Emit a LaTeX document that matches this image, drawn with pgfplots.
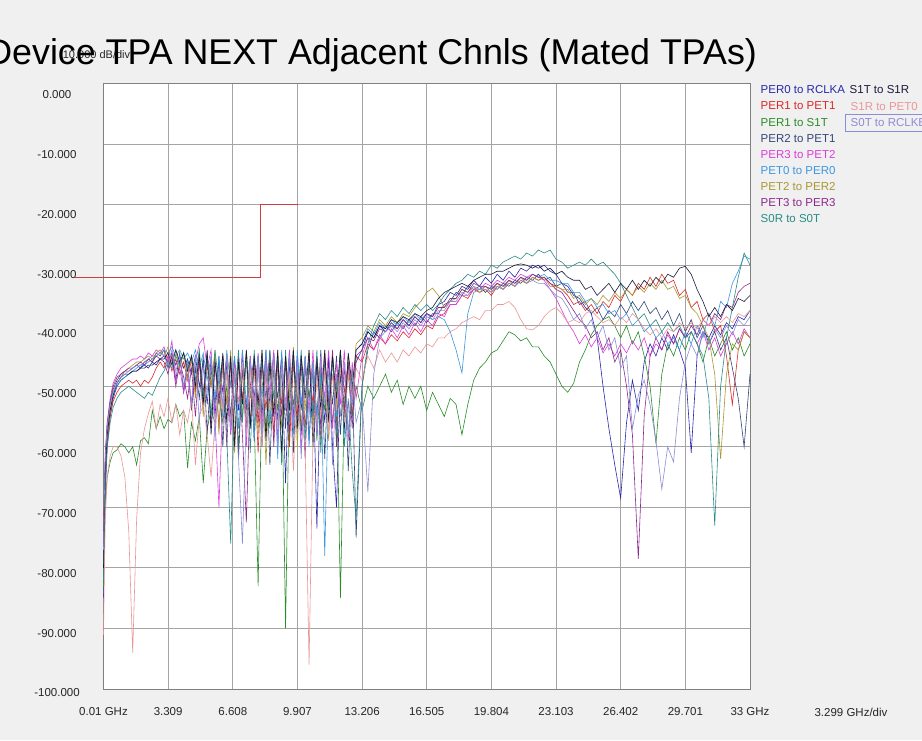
\documentclass[border=0pt]{standalone}
\usepackage{pgfplots}
\pgfplotsset{compat=1.18}
\usepackage{fontspec}
\setmainfont{Liberation Sans}
\definecolor{bgc}{RGB}{240,240,240}
\definecolor{cA}{RGB}{40,40,170}
\definecolor{cB}{RGB}{220,40,40}
\definecolor{cC}{RGB}{40,140,40}
\definecolor{cD}{RGB}{50,70,120}
\definecolor{cE}{RGB}{220,60,220}
\definecolor{cF}{RGB}{60,150,225}
\definecolor{cG}{RGB}{170,150,50}
\definecolor{cH}{RGB}{140,40,140}
\definecolor{cI}{RGB}{40,140,135}
\definecolor{cJ}{RGB}{25,25,60}
\definecolor{cK}{RGB}{235,150,150}
\definecolor{cL}{RGB}{140,140,215}
\definecolor{limc}{RGB}{210,60,60}
\definecolor{gridc}{RGB}{165,165,165}
\begin{document}
\begin{tikzpicture}[x=1pt,y=1pt]
\fill[bgc] (0,0) rectangle (922,740);
\clip (0,0) rectangle (922,740);
\begin{axis}[
  at={(103.5pt,51pt)}, anchor=south west,
  width=646.5pt, height=605.5pt, scale only axis,
  xmin=0.01, xmax=33, ymin=-100, ymax=0,
  axis background/.style={fill=white},
  axis line style={draw=gray, line width=0.9pt},
  grid=major, major grid style={draw=gridc, line width=0.9pt},
  tick style={draw=none},
  clip=false,
  xtick={0.01,3.309,6.608,9.907,13.206,16.505,19.804,23.103,26.402,29.701,33},
  xticklabels={0.01 GHz,3.309,6.608,9.907,13.206,16.505,19.804,23.103,26.402,29.701,33 GHz},
  ytick={-100,-90,-80,-70,-60,-50,-40,-30,-20,-10,0},
  yticklabels={-100.000,-90.000,-80.000,-70.000,-60.000,-50.000,-40.000,-30.000,-20.000,-10.000,0.000},
  ticklabel style={font=\fontsize{11.5}{13}\selectfont, text=black!85},
  xticklabel style={anchor=center, yshift=-23pt},
  yticklabel style={anchor=center, xshift=-46.5pt, yshift={-4pt-0.7pt*\ticknum}},
  every axis plot/.append style={line width=0.6pt},
]
% limit line
\addplot[limc, line width=0.9pt] coordinates {(-1.44,-32) (8.0,-32) (8.0,-20) (9.92,-20)};
% PER0 to RCLKA
\addplot[cA] coordinates {
(0.01,-85)(0.05,-76)(0.1,-68)(0.2,-60)(0.35,-55)(0.5,-52)(0.7,-50)(0.9,-49)(1.1,-48.5)(1.3,-48)(1.5,-47.5)(1.7,-47.5)(1.9,-47)(2.1,-46.5)(2.3,-47)(2.5,-46)(2.7,-46.5)(2.9,-45.5)
(3.1,-45)(3.3,-46)(3.5,-44.5)(3.7,-46.5)(3.9,-45)(4.1,-47)(4.3,-45.5)(4.5,-48)(4.7,-45)(4.9,-50)(5.1,-46)(5.3,-53)(5.5,-45.5)(5.7,-55)(5.9,-46)(6.1,-51)(6.3,-45)(6.5,-58)(6.7,-46)(6.9,-54)(7.1,-45)(7.3,-57)(7.5,-46)(7.7,-52)(7.9,-45)(8.1,-60)(8.3,-46)(8.5,-53)(8.7,-44.5)(8.9,-56)(9.1,-45)(9.3,-66)(9.5,-46)(9.7,-55)(9.9,-45)(10.1,-58)(10.3,-46)(10.5,-52)(10.7,-47)(10.9,-73.5)(11.1,-47)(11.3,-56)(11.5,-45)(11.7,-60)(11.9,-70)(12.1,-48)(12.3,-55)(12.5,-45)(12.7,-52)(12.9,-46)
(13.2,-44)(13.5,-41)(13.8,-42)(14.1,-40)(14.4,-41)(14.7,-39.5)(15.0,-40.5)(15.3,-39)(15.6,-40)(15.9,-38.5)(16.2,-39.5)(16.5,-38)(16.8,-38.5)(17.1,-36.5)(17.4,-36)(17.7,-34.5)(18.0,-35)(18.3,-33.5)(18.6,-34)(18.9,-32.5)(19.2,-33.5)(19.5,-32)(19.8,-33)(20.1,-31.5)(20.4,-32.5)(20.7,-31)(21.0,-32)(21.3,-30.5)(21.6,-31)(21.9,-30)(22.2,-30.5)(22.5,-30)(22.8,-31)(23.1,-31.5)(23.4,-33)(23.7,-33.5)(24.0,-35)(24.3,-35.5)(24.6,-37)(24.9,-38)(25.2,-42)(25.5,-50)(25.8,-57)(26.1,-63)(26.4,-68.5)(26.7,-56)(27.0,-49)(27.3,-54)(27.6,-46)(27.9,-43)(28.2,-45)(28.5,-42)(28.8,-44)(29.1,-41.5)(29.4,-44)(29.7,-47)(30.0,-61)(30.3,-45)(30.6,-41)(30.9,-42)(31.2,-40)(31.5,-41.5)(31.8,-39.5)(32.1,-40.5)(32.4,-38.5)(32.7,-39)(33.0,-37.5)};
% PER1 to PET1
\addplot[cB] coordinates {
(0.01,-80)(0.05,-72)(0.1,-65)(0.2,-59)(0.35,-55)(0.5,-52.5)(0.7,-51)(0.9,-50)(1.1,-49.5)(1.3,-49)(1.5,-49.5)(1.7,-49)(1.9,-50)(2.1,-49)(2.3,-49.5)(2.5,-48.5)(2.7,-47)(2.9,-46)
(3.1,-47)(3.3,-45)(3.5,-47.5)(3.7,-45.5)(3.9,-48)(4.1,-46)(4.3,-49)(4.5,-45.5)(4.7,-51)(4.9,-46)(5.1,-54)(5.3,-46.5)(5.5,-50)(5.7,-45)(5.9,-57)(6.1,-46)(6.3,-53)(6.5,-45.5)(6.7,-59)(6.9,-46)(7.1,-52)(7.3,-45)(7.5,-56)(7.7,-46)(7.9,-61)(8.1,-45.5)(8.3,-54)(8.5,-45)(8.7,-58)(8.9,-46)(9.1,-53)(9.3,-45)(9.5,-60)(9.7,-46)(9.9,-55)(10.1,-45)(10.3,-57)(10.5,-46.5)(10.7,-53)(10.9,-45)(11.1,-59)(11.3,-46)(11.5,-54)(11.7,-45.5)(11.9,-56)(12.1,-45)(12.3,-51)(12.5,-46)(12.7,-55)(12.9,-45)
(13.2,-46)(13.5,-43)(13.8,-44)(14.1,-42)(14.4,-43)(14.7,-41.5)(15.0,-42.5)(15.3,-41)(15.6,-42)(15.9,-40.5)(16.2,-41.5)(16.5,-40)(16.8,-40.5)(17.1,-38.5)(17.4,-38)(17.7,-36.5)(18.0,-36.5)(18.3,-35)(18.6,-35.5)(18.9,-34)(19.2,-34.5)(19.5,-34)(19.8,-35)(20.1,-33.5)(20.4,-34)(20.7,-33)(21.0,-33.5)(21.3,-32.5)(21.6,-33)(21.9,-32)(22.2,-32.5)(22.5,-32)(22.8,-33)(23.1,-33.5)(23.4,-34)(23.7,-35)(24.0,-36.5)(24.3,-36)(24.6,-37.5)(24.9,-36.5)(25.2,-38)(25.5,-36)(25.8,-37)(26.1,-35)(26.4,-36)(26.7,-34)(27.0,-35)(27.3,-33)(27.6,-34)(27.9,-32)(28.2,-33.5)(28.5,-31.5)(28.8,-33)(29.1,-32.5)(29.4,-35)(29.7,-34)(30.0,-37)(30.3,-36)(30.6,-39)(30.9,-38)(31.2,-41)(31.5,-40)(31.8,-45)(32.1,-53)(32.4,-44)(32.7,-41)(33.0,-42)};
% PER1 to S1T
\addplot[cC] coordinates {
(0.01,-83)(0.05,-76)(0.1,-69)(0.2,-65)(0.35,-62.5)(0.5,-61)(0.7,-60.5)(0.9,-59.5)(1.1,-60)(1.3,-61)(1.5,-60)(1.7,-63)(1.9,-59)(2.1,-58.5)(2.3,-59.5)(2.5,-54)(2.7,-57)(2.9,-55)
(3.1,-57)(3.3,-55.5)(3.5,-56)(3.7,-53)(3.9,-55)(4.1,-54)(4.3,-63.5)(4.5,-56)(4.7,-59)(4.9,-55)(5.1,-66)(5.3,-57)(5.5,-54)(5.7,-56)(5.9,-52)(6.1,-56)(6.3,-50)(6.5,-55)(6.7,-48)(6.9,-60)(7.1,-47)(7.3,-58)(7.5,-46)(7.7,-55)(7.9,-83)(8.1,-50)(8.3,-47)(8.5,-57)(8.7,-46)(8.9,-54)(9.1,-47)(9.3,-90)(9.5,-48)(9.7,-53)(9.9,-46)(10.1,-57)(10.3,-47)(10.5,-52)(10.7,-46)(10.9,-59)(11.1,-48)(11.3,-54)(11.5,-47)(11.7,-56)(11.9,-49)(12.1,-85)(12.3,-52)(12.5,-48)(12.7,-55)(12.9,-50)
(13.2,-54)(13.5,-50)(13.8,-52)(14.1,-50)(14.4,-48)(14.7,-51)(15.0,-49)(15.3,-53)(15.6,-50)(15.9,-52)(16.2,-50)(16.5,-54)(16.8,-51)(17.1,-53)(17.4,-55)(17.7,-52)(18.0,-53)(18.3,-58)(18.6,-53)(18.9,-49)(19.2,-47)(19.5,-46)(19.8,-44.5)(20.1,-44)(20.4,-42.5)(20.7,-41)(21.0,-41.5)(21.3,-42.5)(21.6,-42)(21.9,-43.5)(22.2,-43.5)(22.5,-45)(22.8,-46)(23.1,-48)(23.4,-50)(23.7,-51)(24.0,-49.5)(24.3,-46)(24.6,-44)(24.9,-41.5)(25.2,-40)(25.5,-39)(25.8,-38.5)(26.1,-40)(26.4,-42)(26.7,-40)(27.0,-43)(27.3,-41)(27.6,-45)(27.9,-50)(28.2,-59.5)(28.5,-48)(28.8,-43)(29.1,-45)(29.4,-42)(29.7,-44)(30.0,-41)(30.3,-43)(30.6,-46)(30.9,-42)(31.2,-45)(31.5,-43)(31.8,-41)(32.1,-44)(32.4,-42)(32.7,-45)(33.0,-43)};
% PER2 to PET1
\addplot[cD] coordinates {
(0.01,-78)(0.05,-70)(0.1,-63)(0.2,-57)(0.35,-53)(0.5,-50.5)(0.7,-49)(0.9,-48)(1.1,-47.5)(1.3,-47.5)(1.5,-47)(1.7,-46.5)(1.9,-47)(2.1,-46)(2.3,-45.5)(2.5,-46)(2.7,-44.5)(2.9,-45)
(3.1,-44)(3.3,-47)(3.5,-45)(3.7,-49)(3.9,-44.5)(4.1,-51)(4.3,-46)(4.5,-54)(4.7,-47)(4.9,-52)(5.1,-45)(5.3,-58)(5.5,-47)(5.7,-53)(5.9,-45)(6.1,-60)(6.3,-46)(6.5,-55)(6.7,-45)(6.9,-62)(7.1,-47)(7.3,-54)(7.5,-45)(7.7,-59)(7.9,-46)(8.1,-55)(8.3,-44)(8.5,-63)(8.7,-46)(8.9,-52)(9.1,-45)(9.3,-57)(9.5,-44)(9.7,-61)(9.9,-46)(10.1,-54)(10.3,-45)(10.5,-59)(10.7,-46)(10.9,-55)(11.1,-44)(11.3,-62)(11.5,-46)(11.7,-53)(11.9,-45)(12.1,-58)(12.3,-46)(12.5,-64)(12.7,-47)(12.9,-75)
(13.2,-50)(13.5,-44)(13.8,-41)(14.1,-42)(14.4,-40)(14.7,-41)(15.0,-39.5)(15.3,-40.5)(15.6,-39)(15.9,-40)(16.2,-38.5)(16.5,-39.5)(16.8,-38)(17.1,-38)(17.4,-36.5)(17.7,-36)(18.0,-34.5)(18.3,-35)(18.6,-33.5)(18.9,-34)(19.2,-33.5)(19.5,-34.5)(19.8,-33.5)(20.1,-34)(20.4,-33)(20.7,-33.5)(21.0,-32.5)(21.3,-33)(21.6,-32)(21.9,-32.5)(22.2,-31.5)(22.5,-32.5)(22.8,-32)(23.1,-33.5)(23.4,-33)(23.7,-34.5)(24.0,-34.5)(24.3,-36.5)(24.6,-36)(24.9,-38)(25.2,-37)(25.5,-39)(25.8,-37.5)(26.1,-38.5)(26.4,-36.5)(26.7,-38)(27.0,-36)(27.3,-37.5)(27.6,-36)(27.9,-38)(28.2,-37)(28.5,-39)(28.8,-37.5)(29.1,-40)(29.4,-38)(29.7,-41)(30.0,-39)(30.3,-42)(30.6,-40)(30.9,-43)(31.2,-41)(31.5,-44)(31.8,-42)(32.1,-47)(32.4,-52)(32.7,-60)(33.0,-48)};
% PER3 to PET2
\addplot[cE] coordinates {
(0.01,-78)(0.05,-69)(0.1,-62)(0.2,-56)(0.35,-52)(0.5,-49.5)(0.7,-48)(0.9,-47)(1.1,-46.5)(1.3,-46)(1.5,-45.5)(1.7,-45.5)(1.9,-45)(2.1,-45.5)(2.3,-44.5)(2.5,-45)(2.7,-44)(2.9,-44.5)
(3.1,-43.5)(3.3,-46)(3.5,-42.5)(3.7,-49)(3.9,-47)(4.1,-51)(4.3,-48)(4.5,-53)(4.7,-46)(4.9,-43)(5.1,-42)(5.3,-47)(5.5,-44)(5.7,-55)(5.9,-70)(6.1,-52)(6.3,-45)(6.5,-58)(6.7,-46)(6.9,-53)(7.1,-44)(7.3,-60)(7.5,-45)(7.7,-54)(7.9,-44.5)(8.1,-57)(8.3,-45)(8.5,-51)(8.7,-44)(8.9,-59)(9.1,-46)(9.3,-53)(9.5,-44)(9.7,-56)(9.9,-45)(10.1,-61)(10.3,-46)(10.5,-54)(10.7,-44)(10.9,-58)(11.1,-45)(11.3,-52)(11.5,-44)(11.7,-57)(11.9,-46)(12.1,-53)(12.3,-44)(12.5,-59)(12.7,-46)(12.9,-52)
(13.2,-45)(13.5,-42)(13.8,-44)(14.1,-41.5)(14.4,-43)(14.7,-40.5)(15.0,-42)(15.3,-40)(15.6,-41.5)(15.9,-39.5)(16.2,-41)(16.5,-39)(16.8,-40)(17.1,-38)(17.4,-38.5)(17.7,-36.5)(18.0,-36.5)(18.3,-35)(18.6,-35)(18.9,-34)(19.2,-34)(19.5,-33)(19.8,-33.5)(20.1,-32.5)(20.4,-33)(20.7,-32)(21.0,-32.5)(21.3,-31.5)(21.6,-32)(21.9,-31.5)(22.2,-32)(22.5,-32.5)(22.8,-34)(23.1,-35.5)(23.4,-37.5)(23.7,-39.5)(24.0,-41)(24.3,-43)(24.6,-41.5)(24.9,-43.5)(25.2,-42)(25.5,-44.5)(25.8,-43)(26.1,-45)(26.4,-43)(26.7,-44.5)(27.0,-42.5)(27.3,-44)(27.6,-42)(27.9,-45)(28.2,-43)(28.5,-44)(28.8,-41.5)(29.1,-43)(29.4,-40.5)(29.7,-42)(30.0,-41)(30.3,-43)(30.6,-41)(30.9,-44)(31.2,-42)(31.5,-45)(31.8,-43)(32.1,-41)(32.4,-43)(32.7,-40.5)(33.0,-42)};
% PET0 to PER0
\addplot[cF] coordinates {
(0.01,-80)(0.05,-72)(0.1,-64)(0.2,-58)(0.35,-54)(0.5,-51.5)(0.7,-50)(0.9,-49)(1.1,-48.5)(1.3,-48)(1.5,-47.5)(1.7,-47)(1.9,-46.5)(2.1,-46.5)(2.3,-46)(2.5,-45.5)(2.7,-45)(2.9,-44.5)
(3.1,-44)(3.3,-44.5)(3.5,-43.5)(3.7,-45)(3.9,-44)(4.1,-45.5)(4.3,-44.5)(4.5,-46)(4.7,-44)(4.9,-47)(5.1,-44.5)(5.3,-49)(5.5,-45)(5.7,-52)(5.9,-45)(6.1,-55)(6.3,-44)(6.5,-50)(6.7,-45)(6.9,-57)(7.1,-44)(7.3,-53)(7.5,-45.5)(7.7,-59)(7.9,-45)(8.1,-52)(8.3,-44)(8.5,-56)(8.7,-45)(8.9,-62)(9.1,-44)(9.3,-54)(9.5,-45)(9.7,-58)(9.9,-44)(10.1,-53)(10.3,-45)(10.5,-60)(10.7,-46)(10.9,-55)(11.1,-48)(11.3,-78)(11.5,-50)(11.7,-46)(11.9,-55)(12.1,-44)(12.3,-58)(12.5,-45)(12.7,-53)(12.9,-44)
(13.2,-43)(13.5,-40.5)(13.8,-41.5)(14.1,-39.5)(14.4,-40.5)(14.7,-39)(15.0,-40)(15.3,-38.5)(15.6,-39.5)(15.9,-38)(16.2,-39)(16.5,-38)(16.8,-39)(17.1,-38.5)(17.4,-39)(17.7,-41)(18.0,-44)(18.3,-47.8)(18.6,-38)(18.9,-34.5)(19.2,-34)(19.5,-33.5)(19.8,-34)(20.1,-33)(20.4,-33.5)(20.7,-32.5)(21.0,-33)(21.3,-32)(21.6,-32.5)(21.9,-31.5)(22.2,-32)(22.5,-31.5)(22.8,-32.5)(23.1,-32.5)(23.4,-33)(23.7,-33)(24.0,-34.5)(24.3,-34.5)(24.6,-36)(24.9,-35.5)(25.2,-37)(25.5,-36.5)(25.8,-38)(26.1,-37.5)(26.4,-39)(26.7,-38)(27.0,-40)(27.3,-39)(27.6,-41)(27.9,-40)(28.2,-42)(28.5,-41)(28.8,-43)(29.1,-42)(29.4,-44)(29.7,-41)(30.0,-43)(30.3,-40)(30.6,-42)(30.9,-38)(31.2,-40)(31.5,-36)(31.8,-37)(32.1,-33)(32.4,-31)(32.7,-28.5)(33.0,-29)};
% PET2 to PER2
\addplot[cG] coordinates {
(0.01,-79)(0.05,-71)(0.1,-64)(0.2,-58)(0.35,-54)(0.5,-51)(0.7,-49.5)(0.9,-48.5)(1.1,-47.5)(1.3,-47)(1.5,-46.5)(1.7,-46)(1.9,-46)(2.1,-45.5)(2.3,-45)(2.5,-45.5)(2.7,-44.5)(2.9,-44)
(3.1,-45)(3.3,-43.5)(3.5,-46)(3.7,-44)(3.9,-47)(4.1,-44.5)(4.3,-49)(4.5,-45)(4.7,-52)(4.9,-44)(5.1,-55)(5.3,-45)(5.5,-50)(5.7,-44)(5.9,-58)(6.1,-45)(6.3,-53)(6.5,-44)(6.7,-61)(6.9,-45)(7.1,-55)(7.3,-44)(7.5,-52)(7.7,-45)(7.9,-58)(8.1,-44)(8.3,-63)(8.5,-45)(8.7,-54)(8.9,-44)(9.1,-57)(9.3,-45)(9.5,-52)(9.7,-43.5)(9.9,-60)(10.1,-45)(10.3,-54)(10.5,-44)(10.7,-57)(10.9,-45)(11.1,-52)(11.3,-44)(11.5,-59)(11.7,-45)(11.9,-53)(12.1,-44)(12.3,-56)(12.5,-45)(12.7,-51)(12.9,-43)
(13.2,-42)(13.5,-40)(13.8,-41)(14.1,-39)(14.4,-40)(14.7,-38.5)(15.0,-39.5)(15.3,-38)(15.6,-38.5)(15.9,-37)(16.2,-36)(16.5,-34.5)(16.8,-33.8)(17.1,-35)(17.4,-37)(17.7,-36)(18.0,-35.5)(18.3,-34)(18.6,-34.5)(18.9,-33.5)(19.2,-34.5)(19.5,-33.5)(19.8,-34.5)(20.1,-33)(20.4,-34)(20.7,-32.5)(21.0,-33.5)(21.3,-32)(21.6,-33)(21.9,-32)(22.2,-32.5)(22.5,-32)(22.8,-33.5)(23.1,-33.5)(23.4,-34)(23.7,-34)(24.0,-35.5)(24.3,-35)(24.6,-36.5)(24.9,-35.5)(25.2,-36.5)(25.5,-35)(25.8,-36)(26.1,-34.5)(26.4,-35.5)(26.7,-34)(27.0,-35)(27.3,-33.5)(27.6,-34.5)(27.9,-33)(28.2,-34)(28.5,-32.5)(28.8,-34)(29.1,-33.5)(29.4,-35.5)(29.7,-35)(30.0,-37)(30.3,-38)(30.6,-40)(30.9,-42)(31.2,-48)(31.5,-62)(31.8,-48)(32.1,-43)(32.4,-44)(32.7,-41)(33.0,-42)};
% PET3 to PER3
\addplot[cH] coordinates {
(0.01,-76)(0.05,-68)(0.1,-61)(0.2,-56)(0.35,-52.5)(0.5,-50)(0.7,-48.5)(0.9,-48)(1.1,-47.5)(1.3,-47)(1.5,-47)(1.7,-46.5)(1.9,-46)(2.1,-46.5)(2.3,-45.5)(2.5,-46)(2.7,-45)(2.9,-45.5)
(3.1,-46)(3.3,-48)(3.5,-45)(3.7,-50)(3.9,-46)(4.1,-48.5)(4.3,-52)(4.5,-47)(4.7,-55)(4.9,-46)(5.1,-51)(5.3,-44.5)(5.5,-57)(5.7,-46)(5.9,-53)(6.1,-45)(6.3,-60)(6.5,-46)(6.7,-54)(6.9,-45)(7.1,-58)(7.3,-72.5)(7.5,-50)(7.7,-45)(7.9,-56)(8.1,-46)(8.3,-52)(8.5,-44)(8.7,-60)(8.9,-45)(9.1,-55)(9.3,-46)(9.5,-58)(9.7,-44.5)(9.9,-53)(10.1,-46)(10.3,-62)(10.5,-45)(10.7,-55)(10.9,-46)(11.1,-57)(11.3,-45)(11.5,-53)(11.7,-44)(11.9,-60)(12.1,-45)(12.3,-54)(12.5,-46)(12.7,-57)(12.9,-45)
(13.2,-44)(13.5,-42)(13.8,-42.5)(14.1,-40.5)(14.4,-41)(14.7,-40)(15.0,-40.5)(15.3,-39)(15.6,-40)(15.9,-38.5)(16.2,-39.5)(16.5,-38)(16.8,-38.5)(17.1,-37)(17.4,-37)(17.7,-35.5)(18.0,-35.5)(18.3,-34)(18.6,-34.5)(18.9,-33)(19.2,-33.5)(19.5,-33.5)(19.8,-34)(20.1,-33)(20.4,-33.5)(20.7,-32.5)(21.0,-33)(21.3,-32)(21.6,-32.5)(21.9,-31.5)(22.2,-32)(22.5,-32)(22.8,-33)(23.1,-34)(23.4,-34.5)(23.7,-36)(24.0,-37.5)(24.3,-39)(24.6,-40)(24.9,-42)(25.2,-41)(25.5,-44)(25.8,-42)(26.1,-46)(26.4,-44)(26.7,-50)(27.0,-58)(27.3,-78.5)(27.6,-55)(27.9,-45)(28.2,-42)(28.5,-44)(28.8,-41)(29.1,-43)(29.4,-40.5)(29.7,-42)(30.0,-40)(30.3,-41.5)(30.6,-39)(30.9,-40)(31.2,-38)(31.5,-39)(31.8,-36.5)(32.1,-37)(32.4,-34.5)(32.7,-33.5)(33.0,-33)};
% S0R to S0T
\addplot[cI] coordinates {
(0.01,-82)(0.05,-74)(0.1,-66)(0.2,-60)(0.35,-56)(0.5,-53.5)(0.7,-52)(0.9,-51)(1.1,-50.5)(1.3,-50)(1.5,-50.5)(1.7,-51)(1.9,-51.5)(2.1,-52)(2.3,-51)(2.5,-51.5)(2.7,-50)(2.9,-48.5)
(3.1,-47.5)(3.3,-46)(3.5,-47)(3.7,-45)(3.9,-46.5)(4.1,-44.5)(4.3,-47)(4.5,-45)(4.7,-49)(4.9,-44)(5.1,-52)(5.3,-45)(5.5,-55)(5.7,-44)(5.9,-50)(6.1,-45)(6.3,-58)(6.5,-76)(6.7,-52)(6.9,-44)(7.1,-56)(7.3,-45)(7.5,-61)(7.7,-44)(7.9,-54)(8.1,-45)(8.3,-58)(8.5,-44)(8.7,-52)(8.9,-45)(9.1,-63)(9.3,-44)(9.5,-56)(9.7,-45)(9.9,-53)(10.1,-44)(10.3,-59)(10.5,-45)(10.7,-55)(10.9,-44)(11.1,-61)(11.3,-46)(11.5,-54)(11.7,-45)(11.9,-58)(12.1,-44)(12.3,-60)(12.5,-52)(12.7,-64)(12.9,-72)
(13.2,-50)(13.5,-43)(13.8,-40)(14.1,-38)(14.4,-39)(14.7,-37.5)(15.0,-38.5)(15.3,-37)(15.6,-38)(15.9,-36.5)(16.2,-37.5)(16.5,-36.5)(16.8,-37.5)(17.1,-36.5)(17.4,-35)(17.7,-34)(18.0,-33)(18.3,-32.5)(18.6,-31.5)(18.9,-32)(19.2,-31)(19.5,-31.5)(19.8,-30)(20.1,-30.5)(20.4,-29.5)(20.7,-29)(21.0,-28.5)(21.3,-29)(21.6,-28)(21.9,-28.5)(22.2,-27.5)(22.5,-28)(22.8,-27.5)(23.1,-29)(23.4,-29.5)(23.7,-30.5)(24.0,-30)(24.3,-29.5)(24.6,-30)(24.9,-29)(25.2,-30)(25.5,-29.5)(25.8,-30.5)(26.1,-31.5)(26.4,-33)(26.7,-35)(27.0,-37)(27.3,-39)(27.6,-38)(27.9,-40)(28.2,-39)(28.5,-41)(28.8,-39.5)(29.1,-41)(29.4,-40)(29.7,-42)(30.0,-41)(30.3,-43)(30.6,-45)(30.9,-52)(31.2,-73)(31.5,-50)(31.8,-42)(32.1,-37)(32.4,-32)(32.7,-28)(33.0,-30)};
% S1T to S1R
\addplot[cJ] coordinates {
(0.01,-80)(0.05,-71)(0.1,-64)(0.2,-58)(0.35,-54)(0.5,-51.5)(0.7,-49.5)(0.9,-48.5)(1.1,-48)(1.3,-48)(1.5,-47.5)(1.7,-47.5)(1.9,-47)(2.1,-47)(2.3,-46.5)(2.5,-46.5)(2.7,-46)(2.9,-45.5)
(3.1,-45.5)(3.3,-44.5)(3.5,-46.5)(3.7,-44)(3.9,-46)(4.1,-44.5)(4.3,-47.5)(4.5,-45)(4.7,-50)(4.9,-45)(5.1,-53)(5.3,-44)(5.5,-58)(5.7,-46)(5.9,-52)(6.1,-44.5)(6.3,-56)(6.5,-45)(6.7,-60)(6.9,-46)(7.1,-53)(7.3,-44)(7.5,-57)(7.7,-45)(7.9,-53)(8.1,-44)(8.3,-59)(8.5,-46)(8.7,-55)(8.9,-44)(9.1,-61)(9.3,-45)(9.5,-54)(9.7,-44)(9.9,-57)(10.1,-45)(10.3,-52)(10.5,-44)(10.7,-60)(10.9,-45.5)(11.1,-54)(11.3,-44)(11.5,-56)(11.7,-45)(11.9,-52)(12.1,-44)(12.3,-57)(12.5,-44.5)(12.7,-50)(12.9,-44)
(13.2,-43)(13.5,-41)(13.8,-42)(14.1,-40)(14.4,-40.5)(14.7,-39)(15.0,-39.5)(15.3,-38.5)(15.6,-39)(15.9,-38)(16.2,-38.5)(16.5,-37.5)(16.8,-37)(17.1,-35.5)(17.4,-34.5)(17.7,-34)(18.0,-33.5)(18.3,-33)(18.6,-33.5)(18.9,-32.5)(19.2,-32)(19.5,-31.5)(19.8,-31.5)(20.1,-31)(20.4,-31)(20.7,-30.5)(21.0,-30)(21.3,-29.8)(21.6,-30)(21.9,-30.5)(22.2,-30)(22.5,-31)(22.8,-30.5)(23.1,-31.5)(23.4,-31)(23.7,-32)(24.0,-32.5)(24.3,-32.5)(24.6,-34)(24.9,-33.5)(25.2,-35)(25.5,-34)(25.8,-33)(26.1,-34.5)(26.4,-33)(26.7,-34)(27.0,-32.5)(27.3,-34)(27.6,-32.5)(27.9,-33.5)(28.2,-32)(28.5,-33)(28.8,-31.5)(29.1,-32)(29.4,-30.5)(29.7,-30.2)(30.0,-31.5)(30.3,-34)(30.6,-36)(30.9,-38.5)(31.2,-37)(31.5,-38.5)(31.8,-36.5)(32.1,-37.5)(32.4,-35.5)(32.7,-36)(33.0,-35)};
% S1R to PET0
\addplot[cK] coordinates {
(0.01,-91)(0.05,-82)(0.1,-72)(0.2,-65)(0.35,-61.5)(0.5,-60)(0.7,-60)(0.9,-61.5)(1.1,-65)(1.3,-74)(1.5,-94)(1.7,-72)(1.9,-61)(2.1,-57)(2.3,-54.5)(2.5,-52.5)(2.7,-57)(2.9,-53)
(3.1,-55)(3.3,-52)(3.5,-56)(3.7,-53)(3.9,-58)(4.1,-54)(4.3,-56)(4.5,-52)(4.7,-63)(4.9,-55)(5.1,-53)(5.3,-58)(5.5,-65)(5.7,-56)(5.9,-50)(6.1,-54)(6.3,-48)(6.5,-56)(6.7,-47)(6.9,-53)(7.1,-46)(7.3,-58)(7.5,-47)(7.7,-55)(7.9,-46)(8.1,-60)(8.3,-47)(8.5,-54)(8.7,-46)(8.9,-57)(9.1,-47)(9.3,-53)(9.5,-48)(9.7,-64)(9.9,-50)(10.1,-55)(10.3,-60)(10.5,-96)(10.7,-58)(10.9,-49)(11.1,-55)(11.3,-47)(11.5,-58)(11.7,-48)(11.9,-54)(12.1,-47)(12.3,-56)(12.5,-48)(12.7,-52)(12.9,-47)
(13.2,-49)(13.5,-45)(13.8,-47)(14.1,-44)(14.4,-46)(14.7,-44.5)(15.0,-46)(15.3,-44)(15.6,-45)(15.9,-43.5)(16.2,-44.5)(16.5,-43)(16.8,-43.5)(17.1,-42)(17.4,-42)(17.7,-41)(18.0,-40.5)(18.3,-39.5)(18.6,-39)(18.9,-38.5)(19.2,-39)(19.5,-37.5)(19.8,-37.5)(20.1,-36.5)(20.4,-36.5)(20.7,-36)(21.0,-37)(21.3,-39)(21.6,-40.5)(21.9,-40.7)(22.2,-40)(22.5,-38.5)(22.8,-37.5)(23.1,-37)(23.4,-38)(23.7,-39.5)(24.0,-39)(24.3,-39.5)(24.6,-38)(24.9,-37.5)(25.2,-38.5)(25.5,-39.5)(25.8,-39)(26.1,-40)(26.4,-38.5)(26.7,-39.5)(27.0,-38)(27.3,-39)(27.6,-40.5)(27.9,-41.5)(28.2,-40.5)(28.5,-42)(28.8,-40.5)(29.1,-41)(29.4,-39.5)(29.7,-40.5)(30.0,-39.5)(30.3,-40.5)(30.6,-39)(30.9,-40)(31.2,-38.5)(31.5,-39.5)(31.8,-38.5)(32.1,-39.5)(32.4,-38)(32.7,-38.5)(33.0,-37.5)};
% S0T to RCLKB
\addplot[cL] coordinates {
(0.01,-77)(0.05,-69)(0.1,-62)(0.2,-56.5)(0.35,-53)(0.5,-51)(0.7,-49.5)(0.9,-48.5)(1.1,-48)(1.3,-47.5)(1.5,-47)(1.7,-46.5)(1.9,-46.5)(2.1,-46)(2.3,-45.5)(2.5,-45)(2.7,-45)(2.9,-44.5)
(3.1,-45)(3.3,-46.5)(3.5,-44)(3.7,-47.5)(3.9,-45)(4.1,-50)(4.3,-46)(4.5,-53)(4.7,-45)(4.9,-56)(5.1,-47)(5.3,-51)(5.5,-45)(5.7,-59)(5.9,-47)(6.1,-53)(6.3,-45)(6.5,-57)(6.7,-48)(6.9,-62)(7.1,-76)(7.3,-55)(7.5,-46)(7.7,-53)(7.9,-45)(8.1,-58)(8.3,-46)(8.5,-52)(8.7,-45)(8.9,-60)(9.1,-46)(9.3,-54)(9.5,-45)(9.7,-57)(9.9,-46)(10.1,-62)(10.3,-45)(10.5,-55)(10.7,-46)(10.9,-58)(11.1,-45)(11.3,-53)(11.5,-47)(11.7,-63)(11.9,-48)(12.1,-55)(12.3,-46)(12.5,-58)(12.7,-48)(12.9,-56)
(13.2,-52)(13.5,-67.5)(13.8,-48)(14.1,-42)(14.4,-41)(14.7,-40)(15.0,-41)(15.3,-39.5)(15.6,-40.5)(15.9,-39)(16.2,-40)(16.5,-38.5)(16.8,-39)(17.1,-37.5)(17.4,-37.5)(17.7,-36)(18.0,-36)(18.3,-34.5)(18.6,-35)(18.9,-33.5)(19.2,-34)(19.5,-34)(19.8,-34.5)(20.1,-33.5)(20.4,-34)(20.7,-33)(21.0,-33.5)(21.3,-32.5)(21.6,-33)(21.9,-32.5)(22.2,-33)(22.5,-33)(22.8,-34)(23.1,-35)(23.4,-35.5)(23.7,-37)(24.0,-39)(24.3,-38)(24.6,-40.5)(24.9,-39)(25.2,-42)(25.5,-40)(25.8,-44)(26.1,-42)(26.4,-47)(26.7,-45)(27.0,-57)(27.3,-51.5)(27.6,-49)(27.9,-53)(28.2,-59)(28.5,-67)(28.8,-60)(29.1,-62.5)(29.4,-52)(29.7,-46)(30.0,-43)(30.3,-45)(30.6,-41)(30.9,-43)(31.2,-40.5)(31.5,-42)(31.8,-40)(32.1,-41.5)(32.4,-39)(32.7,-40)(33.0,-38.5)};
\end{axis}
% axis annotations
\node[font=\fontsize{11.5}{13}\selectfont, text=black!85] at (851,28) {3.299 GHz/div};
\node[font=\fontsize{11}{13}\selectfont, text=black!85] at (96.5,685) {10.000 dB/div};
\node[font=\fontsize{35.8}{40}\selectfont, anchor=base west, inner sep=0pt] at (-13.85,675.5) {Device TPA NEXT Adjacent Chnls (Mated TPAs)};
% legend
\begin{scope}[every node/.style={font=\fontsize{11.5}{13}\selectfont, anchor=west, inner sep=0pt}]
\node[text=cA] at (760.5,650) {PER0 to RCLKA};
\node[text=cB] at (760.5,633.9) {PER1 to PET1};
\node[text=cC] at (760.5,617.8) {PER1 to S1T};
\node[text=cD] at (760.5,601.7) {PER2 to PET1};
\node[text=cE] at (760.5,585.6) {PER3 to PET2};
\node[text=cF] at (760.5,569.5) {PET0 to PER0};
\node[text=cG] at (760.5,553.4) {PET2 to PER2};
\node[text=cH] at (760.5,537.3) {PET3 to PER3};
\node[text=cI] at (760.5,521.2) {S0R to S0T};
\node[text=cJ] at (849.5,650) {S1T to S1R};
\node[text=cK] at (850.5,633.9) {S1R to PET0};
\node[text=cL] at (850.5,617.8) {S0T to RCLKB};
\end{scope}
\draw[cL, line width=0.8pt] (845.5,608.5) rectangle (930,625.5);
\end{tikzpicture}
\end{document}
